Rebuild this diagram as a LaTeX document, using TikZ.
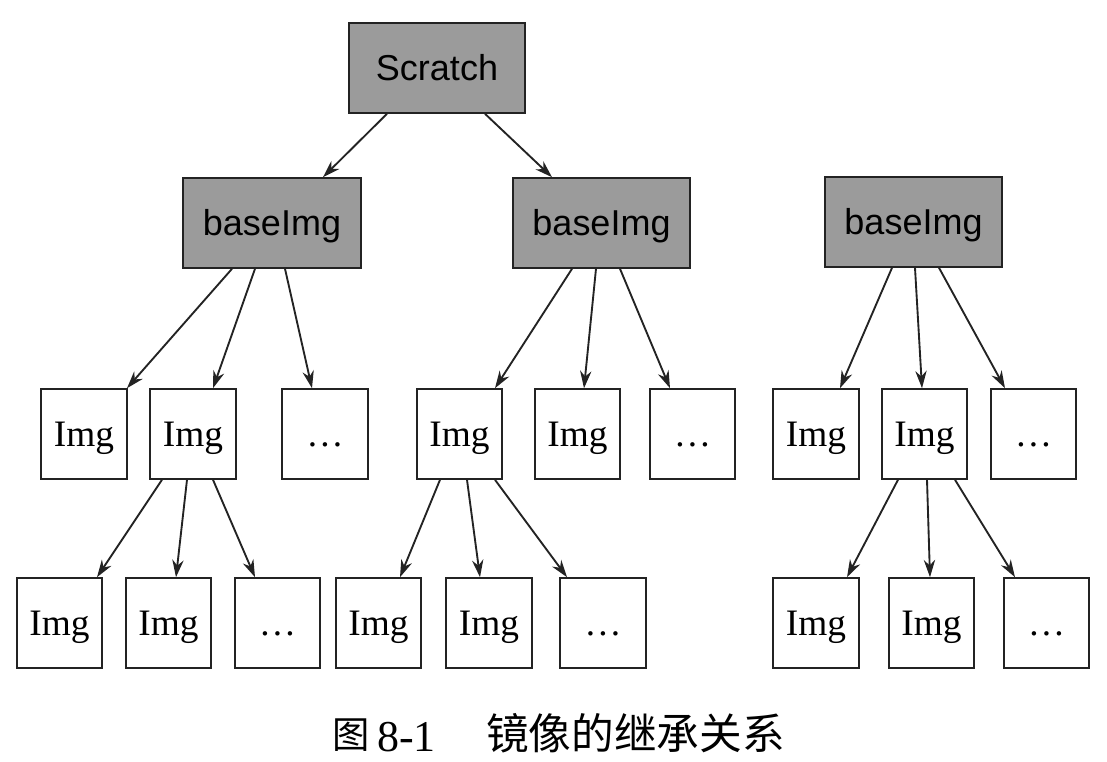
\documentclass[tikz,border=0pt]{standalone}
\usepackage{fontspec}
\setmainfont{Liberation Serif}
\newfontfamily\sansf{Liberation Sans}
\newfontfamily\cjk{Noto Sans CJK SC}
\usetikzlibrary{calc,arrows.meta}
\definecolor{boxgray}{RGB}{155,155,155}
\definecolor{edgec}{RGB}{35,35,35}
\tikzset{
  basebox/.style={draw=edgec, line width=1.7pt, fill=boxgray, rectangle, inner sep=0pt,
     minimum width=133pt, minimum height=67pt, font=\sansf\fontsize{27}{30}\selectfont,
     text height=19.3pt, text depth=0pt},
  imgbox/.style={draw=edgec, line width=1.7pt, fill=white, rectangle, inner sep=0pt,
     minimum width=64pt, minimum height=67pt, font=\fontsize{28}{30}\selectfont,
     text height=18.5pt, text depth=0pt},
  dotbox/.style={imgbox},
  arr/.style={draw=edgec, line width=1.4pt, -{Stealth[length=13pt,width=8.5pt]}},
  captext/.style={inner sep=0pt, anchor=base west}
}
\begin{document}
\begin{tikzpicture}[x=0.75pt,y=-0.75pt]
\useasboundingbox[fill=white] (0,0) rectangle (1107,762);
% top
\node[basebox, minimum width=132pt] (S) at (437,68) {Scratch};
\node[basebox] (B1) at (272,223) {baseImg};
\node[basebox] (B2) at (601.5,223) {baseImg};
\node[basebox] (B3) at (913.5,222) {baseImg};
% row 1
\node[imgbox] (a1) at (84,434) {Img};
\node[imgbox] (a2) at (193,434) {Img};
\node[dotbox] (a3) at (325,434) {…};
\node[imgbox] (a4) at (459.5,434) {Img};
\node[imgbox] (a5) at (577.5,434) {Img};
\node[dotbox] (a6) at (692.5,434) {…};
\node[imgbox] (a7) at (816,434) {Img};
\node[imgbox] (a8) at (924.5,434) {Img};
\node[dotbox] (a9) at (1033.5,434) {…};
% row 2
\node[imgbox] (b1) at (59.5,623) {Img};
\node[imgbox] (b2) at (168.5,623) {Img};
\node[dotbox] (b3) at (277.5,623) {…};
\node[imgbox] (b4) at (378.5,623) {Img};
\node[imgbox] (b5) at (489,623) {Img};
\node[dotbox] (b6) at (603,623) {…};
\node[imgbox] (b7) at (816,623) {Img};
\node[imgbox] (b8) at (931.5,623) {Img};
\node[dotbox] (b9) at (1046.5,623) {…};
% edges
\draw[arr] ($(S.south)+(-50,0)$) -- ($(B1.north)+(51,0)$);
\draw[arr] ($(S.south)+(48,0)$) -- ($(B2.north)+(-49.5,0)$);
\draw[arr] ($(B1.south)+(-40,0)$) -- ($(a1.north)+(43,0)$);
\draw[arr] ($(B1.south)+(-17,0)$) -- ($(a2.north)+(20,0)$);
\draw[arr] ($(B1.south)+(13,0)$) -- ($(a3.north)+(-13,0)$);
\draw[arr] ($(B2.south)+(-29.5,0)$) -- ($(a4.north)+(35.5,0)$);
\draw[arr] ($(B2.south)+(-5.5,0)$) -- ($(a5.north)+(6.5,0)$);
\draw[arr] ($(B2.south)+(18.5,0)$) -- ($(a6.north)+(-22.5,0)$);
\draw[arr] ($(B3.south)+(-21.5,0)$) -- ($(a7.north)+(24,0)$);
\draw[arr] ($(B3.south)+(1.5,0)$) -- ($(a8.north)+(-2.5,0)$);
\draw[arr] ($(B3.south)+(25.5,0)$) -- ($(a9.north)+(-28.5,0)$);
\draw[arr] ($(a2.south)+(-31,0)$) -- ($(b1.north)+(37.5,0)$);
\draw[arr] ($(a2.south)+(-6,0)$) -- ($(b2.north)+(7.5,0)$);
\draw[arr] ($(a2.south)+(20,0)$) -- ($(b3.north)+(-22.5,0)$);
\draw[arr] ($(a4.south)+(-19.5,0)$) -- ($(b4.north)+(21.5,0)$);
\draw[arr] ($(a4.south)+(7.5,0)$) -- ($(b5.north)+(-9,0)$);
\draw[arr] ($(a4.south)+(35.5,0)$) -- ($(b6.north)+(-36,0)$);
\draw[arr] ($(a8.south)+(-26.5,0)$) -- ($(b7.north)+(31,0)$);
\draw[arr] ($(a8.south)+(2.5,0)$) -- ($(b8.north)+(-1.5,0)$);
\draw[arr] ($(a8.south)+(30.5,0)$) -- ($(b9.north)+(-31.5,0)$);
% caption
\node[captext, font=\cjk\fontsize{28}{32}\selectfont] (c1) at (332,748) {图};
\node[captext, font=\fontsize{33}{35}\selectfont] (c2) at (377,751) {8-1};
\node[captext, font=\cjk\fontsize{32}{34}\selectfont] (c3) at (486,749) {镜像的继承关系};
\end{tikzpicture}
\end{document}
